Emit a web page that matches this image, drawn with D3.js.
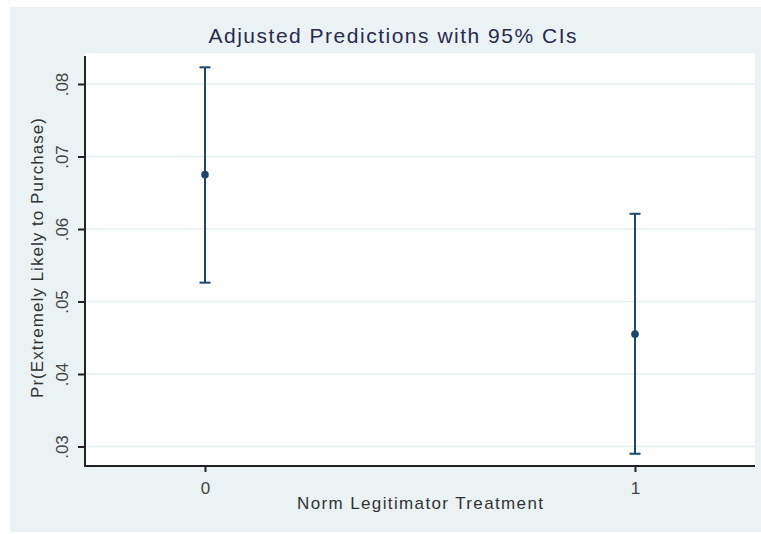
<!DOCTYPE html>
<html>
<head>
<meta charset="utf-8">
<script src="https://cdn.jsdelivr.net/npm/d3@7"></script>
<style>
  body { margin: 0; background: #fff; }
  text { font-family: "Liberation Sans", Arial, sans-serif; }
</style>
</head>
<body>
<svg id="chart" width="761" height="534"></svg>
<script>
// Treatment groups and margins (predicted probability with 95% CI)
var groups = [0, 1];
var estimates = [0.0675, 0.0455];
var lowerCI = [0.0526, 0.0290];
var upperCI = [0.0823, 0.0621];
var yTicks = [0.03, 0.04, 0.05, 0.06, 0.07, 0.08];
var yTickLabels = [".03", ".04", ".05", ".06", ".07", ".08"];

var svg = d3.select("#chart");

// Plot area bounds
var plot = {left: 85, right: 755, top: 53, bottom: 466};

// Scales
var x = d3.scaleLinear().domain([0, 1]).range([205, 635]);
var y = d3.scaleLinear().domain([0.03, 0.08]).range([446.5, 84]);

var lineColor = "#1a476f";

// Outer background
svg.append("rect")
    .attr("x", 10).attr("y", 7)
    .attr("width", 751).attr("height", 525)
    .attr("fill", "#eaf2f3");

// White plot region
svg.append("rect")
    .attr("x", plot.left).attr("y", plot.top)
    .attr("width", plot.right - plot.left)
    .attr("height", plot.bottom - plot.top)
    .attr("rx", 3)
    .attr("fill", "#ffffff");

// Gridlines
svg.selectAll(".grid")
    .data(yTicks)
    .join("line")
    .attr("class", "grid")
    .attr("x1", plot.left).attr("x2", plot.right)
    .attr("y1", function(d) { return y(d); })
    .attr("y2", function(d) { return y(d); })
    .attr("stroke", "#e4eef0")
    .attr("stroke-width", 1.5);

// Y axis
var yAxis = d3.axisLeft(y)
    .tickValues(yTicks)
    .tickSize(7)
    .tickFormat(function(d, i) { return yTickLabels[i]; });

var gy = svg.append("g")
    .attr("transform", "translate(" + plot.left + ",0)")
    .call(yAxis);
gy.select(".domain").remove();
gy.selectAll(".tick line").attr("stroke", "#222").attr("stroke-width", 2);
gy.selectAll(".tick text")
    .attr("x", 0).attr("dy", 0)
    .attr("transform", "translate(-17,0) rotate(-90)")
    .attr("text-anchor", "middle")
    .attr("font-size", 17)
    .attr("fill", "#444");
gy.append("line")
    .attr("x1", 0).attr("x2", 0)
    .attr("y1", 56).attr("y2", plot.bottom + 1)
    .attr("stroke", "#222").attr("stroke-width", 2);

// X axis
var xAxis = d3.axisBottom(x)
    .tickValues(groups)
    .tickSize(6)
    .tickFormat(d3.format("d"));

var gx = svg.append("g")
    .attr("transform", "translate(0," + plot.bottom + ")")
    .call(xAxis);
gx.select(".domain").remove();
gx.selectAll(".tick line").attr("stroke", "#222").attr("stroke-width", 2);
gx.selectAll(".tick text")
    .attr("y", 28).attr("dy", 0)
    .attr("font-size", 17)
    .attr("fill", "#444");
gx.append("line")
    .attr("x1", plot.left - 1).attr("x2", plot.right)
    .attr("y1", 0).attr("y2", 0)
    .attr("stroke", "#222").attr("stroke-width", 2);

// Error bars
var capHalf = 5.5;
svg.selectAll(".ci")
    .data(groups)
    .join("line")
    .attr("class", "ci")
    .attr("x1", function(d) { return x(d); })
    .attr("x2", function(d) { return x(d); })
    .attr("y1", function(d, i) { return y(upperCI[i]); })
    .attr("y2", function(d, i) { return y(lowerCI[i]); })
    .attr("stroke", lineColor)
    .attr("stroke-width", 2);

svg.selectAll(".capTop")
    .data(groups)
    .join("line")
    .attr("class", "capTop")
    .attr("x1", function(d) { return x(d) - capHalf; })
    .attr("x2", function(d) { return x(d) + capHalf; })
    .attr("y1", function(d, i) { return y(upperCI[i]); })
    .attr("y2", function(d, i) { return y(upperCI[i]); })
    .attr("stroke", lineColor)
    .attr("stroke-width", 2);

svg.selectAll(".capBottom")
    .data(groups)
    .join("line")
    .attr("class", "capBottom")
    .attr("x1", function(d) { return x(d) - capHalf; })
    .attr("x2", function(d) { return x(d) + capHalf; })
    .attr("y1", function(d, i) { return y(lowerCI[i]); })
    .attr("y2", function(d, i) { return y(lowerCI[i]); })
    .attr("stroke", lineColor)
    .attr("stroke-width", 2);

// Point estimates
svg.selectAll(".pt")
    .data(groups)
    .join("circle")
    .attr("class", "pt")
    .attr("cx", function(d) { return x(d); })
    .attr("cy", function(d, i) { return y(estimates[i]); })
    .attr("r", 3.8)
    .attr("fill", lineColor);

// Title
svg.append("text")
    .attr("x", 392.5).attr("y", 43)
    .attr("text-anchor", "middle")
    .attr("font-size", 21)
    .attr("textLength", 368)
    .attr("lengthAdjust", "spacing")
    .attr("fill", "#2a2a50")
    .text("Adjusted Predictions with 95% CIs");

// Axis titles
svg.append("text")
    .attr("x", 420).attr("y", 509)
    .attr("text-anchor", "middle")
    .attr("font-size", 17)
    .attr("textLength", 246)
    .attr("lengthAdjust", "spacing")
    .attr("fill", "#333")
    .text("Norm Legitimator Treatment");

svg.append("text")
    .attr("transform", "translate(43,258) rotate(-90)")
    .attr("text-anchor", "middle")
    .attr("font-size", 17)
    .attr("textLength", 280)
    .attr("lengthAdjust", "spacing")
    .attr("fill", "#333")
    .text("Pr(Extremely Likely to Purchase)");
</script>
</body>
</html>
